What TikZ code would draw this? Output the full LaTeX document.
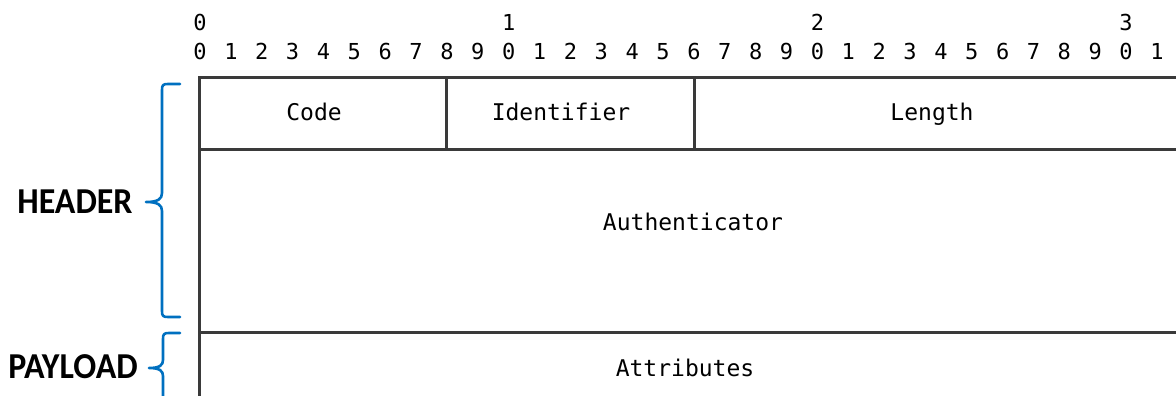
\documentclass[tikz,border=0pt]{standalone}
\usepackage{fontspec}
\newfontfamily\monofont{DejaVu Sans Mono}
\newfontfamily\tagfont{Carlito}[FakeStretch=0.93]
\definecolor{framegray}{RGB}{58,58,58}
\definecolor{braceblue}{RGB}{0,112,192}
\tikzset{
  fieldbox/.style={draw=framegray, line width=2.6pt, inner sep=0pt, anchor=north west},
  fieldtext/.style={anchor=base, inner sep=0pt, font=\monofont\fontsize{23}{27}\selectfont},
  bitnum/.style={anchor=base, inner sep=0pt, font=\monofont\fontsize{22}{26}\selectfont},
  sectag/.style={anchor=base, inner sep=0pt, font=\tagfont\bfseries\fontsize{36.5}{42}\selectfont},
  bracepath/.style={draw=braceblue, line width=2.6pt, line cap=round, line join=round}
}
\begin{document}
\begin{tikzpicture}[x=1pt,y=-1pt]
\useasboundingbox (0,0) rectangle (1176,396);
\clip (0,0) rectangle (1176,396);

% bit ruler
\foreach \t in {0,1,2,3}
  \node[bitnum] (tens\t) at ({200+10*\t*30.87},31) {\t};
\foreach \i in {0,...,31}{
  \pgfmathtruncatemacro{\d}{mod(\i,10)}
  \node[bitnum] (bit\i) at ({200+\i*30.87},60) {\d};
}

% packet fields
\node[fieldbox, minimum width=247pt, minimum height=72pt] (code) at (198,76) {};
\node[fieldbox, minimum width=248pt, minimum height=72pt] (ident) at (445,76) {};
\node[fieldbox, minimum width=497pt, minimum height=72pt] (len) at (693,76) {};
\node[fieldbox, minimum width=992pt, minimum height=183pt] (auth) at (198,148) {};
\node[fieldbox, minimum width=992pt, minimum height=100pt] (attr) at (198,331) {};

\node[fieldtext] (codetxt) at (314,121) {Code};
\node[fieldtext] (identtxt) at (561,121) {Identifier};
\node[fieldtext] (lentxt) at (932,121) {Length};
\node[fieldtext] (authtxt) at (693,230) {Authenticator};
\node[fieldtext] (attrtxt) at (685,376) {Attributes};

% section braces
\draw[bracepath] (180,84) -- (168,84) .. controls (163,84) and (162,85) .. (162,90)
  -- (162,193) .. controls (162,199) and (158,202) .. (146,202)
  .. controls (158,202) and (162,205) .. (162,211)
  -- (162,311) .. controls (162,316) and (163,317) .. (168,317) -- (180,317);
\draw[bracepath] (180,333) -- (169,333) .. controls (164,333) and (163,334) .. (163,339)
  -- (163,360) .. controls (163,365) and (160,368) .. (149,368)
  .. controls (160,368) and (163,371) .. (163,376)
  -- (163,397) .. controls (163,402) and (164,403) .. (169,403) -- (180,403);

\node[sectag] (header) at (75,213) {HEADER};
\node[sectag] (payload) at (73,378) {PAYLOAD};
\end{tikzpicture}
\end{document}
